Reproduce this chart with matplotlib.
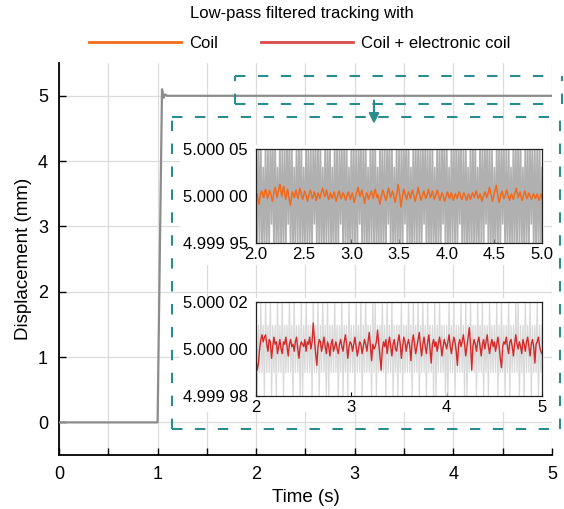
import numpy as np
import matplotlib
matplotlib.use("Agg")
import matplotlib.pyplot as plt
from matplotlib.lines import Line2D
from matplotlib.patches import Rectangle
from matplotlib.ticker import MultipleLocator, FuncFormatter

plt.rcParams['font.family'] = ['Liberation Sans', 'DejaVu Sans']

# main step response (s, mm)
step_t = [0, 1.0, 1.045, 1.06, 1.075, 1.1, 5.0]
step_y = [0, 0, 5.1, 4.97, 5.02, 5.0, 5.0]

# top inset: raw tracking (units of 1e-5 mm around 5 mm)
raw_top = [
    6, -6, 6, -5, 6, -6, 3, -6, 6, -6, 5, -6, 6, -3, 6, -6, 6, -6, 3, -6,
    6, -6, 5, -6, 6, -6, 6, -3, 6, -6, 6, -6, 3, -6, 6, -5, 6, -6, 6, -6,
    3, -6, 6, -6, 6, -6, 5, -6, 6, -3, 6, -6, 6, -6, 6, -6, 3, -6, 6, -6,
    6, -5, 6, -6, 3, -6, 6, -6, 6, -6, 5, -3, 6, -6, 6, -6, 6, -6, 3, -6,
    6, -6, 6, -6, 5, -6, 6, -3, 6, -6, 6, -6, 6, -6, 3, -6, 6, -5, 6, -6,
    6, -6, 3, -6, 6, -6, 6, -6, 5, -6, 6, -3, 6, -6, 6, -6, 3, -6, 6, -6,
    5, -6, 6, -6, 6, -3, 6, -6, 6, -6, 3, -6, 6, -6, 6, -5, 6, -6, 6, -6,
    6, -3, 6, -6, 6, -6, 5, -6, 6, -6, 3, -6, 6, -6, 6, -6, 6, -3, 6, -6,
    6, -6, 3, -6, 6, -5, 6, -6, 6, -6, 6, -3, 6, -6, 5, -6, 6, -6, 3, -6,
    6, -6, 6, -6, 6, -6, 3, -6, 6, -5, 6, -6, 6, -3, 6, -6, 6, -6, 5, -6,
    3, -6, 6, -6, 6, -6, 6, -3, 6, -6, 5, -6, 6, -6, 3, -6, 6, -6, 6, -6,
    6, -5, 6, -6, 3, -6, 6, -6, 6, -6, 6, -3, 6, -6, 5, -6, 6, -6, 6, -6,
    3]

# top inset: filtered, coil (units of 1e-6 mm)
coil = [
    -1, 2, -4, -9, -3, 3, 5, 1, -2, 4, 7, 2, -3, 1, 6, 3, -1, -6, -2, 5,
    9, 4, -2, 3, 8, 12, 5, -1, 6, 10, 3, -4, 2, 7, 1, -5, -10, -3, 4, 2,
    -2, 3, 6, 1, -3, 2, 8, 4, -1, -4, 1, 5, 2, -2, -6, -1, 3, 6, 2, -3,
    -1, 4, 2, -5, -2, 3, 1, -3, 2, 5, 8, 3, -1, 2, 6, 1, -4, -2, 3, 0,
    -3, 1, 4, -1, -6, -2, 2, 5, 1, -3, -1, 3, 2, -2, -5, -1, 2, 4, -1, -4,
    0, 3, -2, -7, -3, 1, 5, 9, 4, -1, 2, 6, 1, -3, -8, -2, 3, 1, -4, -1,
    2, 5, 1, -3, 3, 7, 2, -2, 1, -4, -9, -3, 2, 6, 3, -1, -5, -2, 4, 8,
    3, -2, 1, 5, 2, -3, -7, -1, 4, 12, 6, -2, -12, -5, 2, 7, 3, -1, -4, 1,
    4, 1, -3, 2, 6, 2, -2, -6, -1, 3, 9, 4, -1, -5, -2, 2, 5, 1, -3, -1,
    3, 7, 2, -2, 1, 5, 1, -4, -1, 2, 6, 3, -2, -5, -1, 3, 1, -3, -6, -2,
    2, 4, -1, -3, 1, 3, -2, -5, -1, 2, 0, -3, 1, 4, 2, -2, -4, 0, 3, 1,
    -2, -5, -1, 2, -1, -4, 0, 3, 1, -2, 2, 5, 1, -3, -1, 2, -2, -6, -2, 1,
    4, 2, -2, 1, 5, 9, 3, -1, -6, -2, 3, 7, 11, 4, -2, -7, -3, 2, 5, 1,
    -3, -1, 3, 6, 2, -2, -5, -1, 2, -1, -4, 1, 4, 8, 3, -2, 1, 4, -1, -5,
    -2, 2, 5, 1, -3, -1, 3, 1, -2, -4, -1, 2, 0, -3, -1, 2, -2, -5, -1, 2,
    -3]

# bottom inset: raw tracking (units of 1e-5 mm)
raw_bot = [
    2, -2, 1, -1, 2, -1, 1, -2, 2, -1, 1, -1, 2, -2, 1, -1, 1, -2, 2, -1,
    1, -1, 2, -2, 1, -1, 1, -1, 2, -1, 1, -2, 2, -1, 1, -1, 1, -2, 2, -2,
    1, -1, 2, -1, 1, -1, 1, -2, 2, -1, 1, -1, 2, -2, 1, -1, 2, -1, 1, -2,
    2, -2, 1, -1, 1, -1, 2, -1, 1, -2, 1, -1, 2, -2, 1, -1, 1, -2, 2, -1,
    1, -1, 1, -2, 2, -1, 1, -1, 2, -2, 1, -1, 2, -1, 1, -1, 1, -2, 2, -1,
    2, -2, 1, -1, 1, -1, 2, -1, 1, -2, 2, -1, 1, -1, 2, -2, 1, -1, 1, -2,
    1, -1, 2, -2, 1, -1, 1, -1, 2, -1, 1, -2, 2, -1, 1, -1, 2, -2, 1, -1,
    2, -1, 1, -2, 2, -1, 1, -1, 1, -2, 2, -2, 1, -1, 2, -1, 1, -1, 1, -2,
    1, -2, 2, -1, 1, -1, 2, -2, 1, -1, 1, -1, 2, -1, 1, -2, 2, -2, 1, -1,
    2, -1, 1, -1, 1, -2, 2, -1, 1, -1, 2, -2, 1, -1, 1, -2, 2, -1, 1, -1,
    1, -1, 2, -2, 1, -1, 2, -1, 1, -2, 1, -1, 2, -2, 1, -1, 1, -1, 2, -1,
    2, -2, 1, -1, 1, -2, 2, -1, 1, -1, 2, -2, 1, -1, 1, -1, 2, -2, 1, -1,
    1]

# bottom inset: filtered, coil + electronic coil (units of 1e-6 mm)
coil_elec = [
    -5, -9, -6, 0, 4, 6, 3, 5, 6, 2, -1, 4, 3, -4, 1, 5, 2, 3, -2, 1,
    4, 0, -2, 3, 2, 5, 1, -3, 2, 4, 1, 2, -1, 3, 5, 0, -4, 1, 3, 2,
    1, 4, -1, 3, 2, 5, 0, 3, 11, 4, -2, -7, 1, 4, 3, -1, 2, 5, 1, -2,
    3, 1, -3, 2, 4, -1, 1, 3, 0, -2, 2, 4, 1, -1, 3, 6, 2, -4, 1, 3,
    2, -1, 2, 5, 1, -3, 0, 3, 2, -2, 1, 4, 2, -1, 3, 7, 1, -5, 2, 0,
    1, 3, 8, 2, -3, -9, 0, 3, 1, 4, -2, 2, 5, 1, -3, 2, 4, 0, -1, 3,
    6, 2, -4, 1, 5, 3, -1, 2, 4, 1, -5, 3, 6, 2, -2, 1, 4, 7, 1, -3,
    2, 5, 1, -2, 3, 6, 0, -6, 2, 4, 1, 3, -1, 2, 5, 2, -3, 1, 4, 2,
    0, 3, 6, 1, -2, 2, 5, 3, -1, -7, 2, 4, 1, 3, 6, 2, -3, 1, 5, 9,
    2, -9, 1, 4, 2, -1, 3, 5, 1, -3, 2, 4, 0, 3, 6, 1, -2, 2, 4, 1,
    3, -1, 2, 5, 1, -4, -8, 1, 3, 2, 5, 1, -2, 3, 4, 1, -3, 2, 6, 2,
    0, 3, 1, -2, 4, 2, -1, 3, 5, 1, -3, 2, 4, 1, -6, 2, 3, 5, 1, -1,
    -2]

C_STEP = "#8c8c8c"
C_ORANGE = "#f26b1d"
C_RED = "#d42a2a"
C_TEAL = "#2a8c8c"

fig = plt.figure(figsize=(5.64, 5.09), dpi=100)
ax = fig.add_axes([0.1046, 0.106, 0.874, 0.770])

ax.plot(step_t, step_y, color=C_STEP, lw=1.6, zorder=3)
ax.set_xlim(0, 5)
ax.set_ylim(-0.5, 5.5)
ax.xaxis.set_major_locator(MultipleLocator(0.5))
ax.xaxis.set_major_formatter(FuncFormatter(lambda v, p: "%d" % v if abs(v - round(v)) < 1e-9 else ""))
ax.set_yticks([0, 1, 2, 3, 4, 5])
ax.grid(True, color="#dcdcdc", lw=0.9)
ax.set_axisbelow(True)
for s in ["top", "right"]:
    ax.spines[s].set_visible(False)
ax.spines["left"].set_linewidth(1.3)
ax.spines["bottom"].set_linewidth(1.3)
ax.tick_params(direction="in", length=5, width=1, labelsize=13, pad=8)
ax.set_xlabel("Time (s)", fontsize=13.5, labelpad=4)
ax.set_ylabel("Displacement (mm)", fontsize=13.5, labelpad=4)

# dashed boxes and arrow
dash = dict(color=C_TEAL, lw=1.5, ls=(0, (5, 6)), clip_on=False, zorder=4)
ax.plot([1.785, 5.0], [5.31, 5.31], **dash)
ax.plot([1.785, 5.0], [4.88, 4.88], **dash)
ax.plot([1.785, 1.785], [4.88, 5.31], **dash)
ax.plot([5.1, 5.1], [4.88, 5.31], **dash)
ax.plot([1.146, 5.08], [4.68, 4.68], **dash)
ax.plot([1.146, 5.08], [-0.107, -0.107], **dash)
ax.plot([1.146, 1.146], [-0.107, 4.68], **dash)
ax.plot([5.08, 5.08], [-0.107, 4.68], **dash)
ax.annotate("", xy=(3.195, 4.53), xytext=(3.195, 4.97),
            arrowprops=dict(arrowstyle="-|>,head_width=0.3,head_length=0.6",
                            color=C_TEAL, lw=1.5), annotation_clip=False)

# white backgrounds behind insets
fig.patches.append(Rectangle((0.32, 0.48), 0.645, 0.235, transform=fig.transFigure,
                             facecolor="white", edgecolor="none", zorder=1))
fig.patches.append(Rectangle((0.32, 0.19), 0.645, 0.225, transform=fig.transFigure,
                             facecolor="white", edgecolor="none", zorder=1))

# top inset
ax1 = fig.add_axes([0.454, 0.523, 0.507, 0.185], zorder=2)
t_raw = np.linspace(2, 5, len(raw_top))
t_coil = np.linspace(2, 5, len(coil))
ax1.plot(t_raw, 5 + np.array(raw_top) * 1e-5, color="#b0b0b0", lw=1.2)
ax1.plot(t_coil, 5 + np.array(coil) * 1e-6, color=C_ORANGE, lw=1.1)
ax1.set_xlim(2, 5)
ax1.set_ylim(5 - 5e-5, 5 + 5e-5)
ax1.set_xticks([2, 2.5, 3, 3.5, 4, 4.5, 5])
ax1.set_xticklabels(["2.0", "2.5", "3.0", "3.5", "4.0", "4.5", "5.0"])
ax1.set_yticks([5 - 5e-5, 5, 5 + 5e-5])
ax1.set_yticklabels(["4.999 95", "5.000 00", "5.000 05"])

# bottom inset
ax2 = fig.add_axes([0.454, 0.222, 0.507, 0.185], zorder=2)
t_raw2 = np.linspace(2, 5, len(raw_bot))
t_ce = np.linspace(2, 5, len(coil_elec))
ax2.plot(t_raw2, 5 + np.array(raw_bot) * 1e-5, color="#d9d9d9", lw=0.9)
ax2.plot(t_ce, 5 + np.array(coil_elec) * 1e-6, color=C_RED, lw=1.0)
ax2.set_xlim(2, 5)
ax2.set_ylim(5 - 2e-5, 5 + 2e-5)
ax2.set_xticks([2, 3, 4, 5])
ax2.set_xticklabels(["2", "3", "4", "5"])
ax2.set_yticks([5 - 2e-5, 5, 5 + 2e-5])
ax2.set_yticklabels(["4.999 98", "5.000 00", "5.000 02"])

for a in (ax1, ax2):
    for s in a.spines.values():
        s.set_linewidth(0.9)
        s.set_color("#222222")
    a.tick_params(direction="in", length=3, labelsize=12)
    a.tick_params(axis="y", pad=6)
    a.tick_params(axis="x", pad=3)

fig.text(0.535, 0.9725, "Low-pass filtered tracking with", fontsize=12,
         ha="center", va="center")
handles = [Line2D([], [], color=C_ORANGE, lw=2),
           Line2D([], [], color="#d94a4a", lw=2)]
leg = fig.legend(handles, ["Coil", "Coil + electronic coil"], ncol=2,
                 loc="center", bbox_to_anchor=(0.532, 0.915), frameon=False,
                 fontsize=12, handlelength=5.5, handletextpad=0.5,
                 columnspacing=2.6)

fig.savefig("out.png", dpi=100)
